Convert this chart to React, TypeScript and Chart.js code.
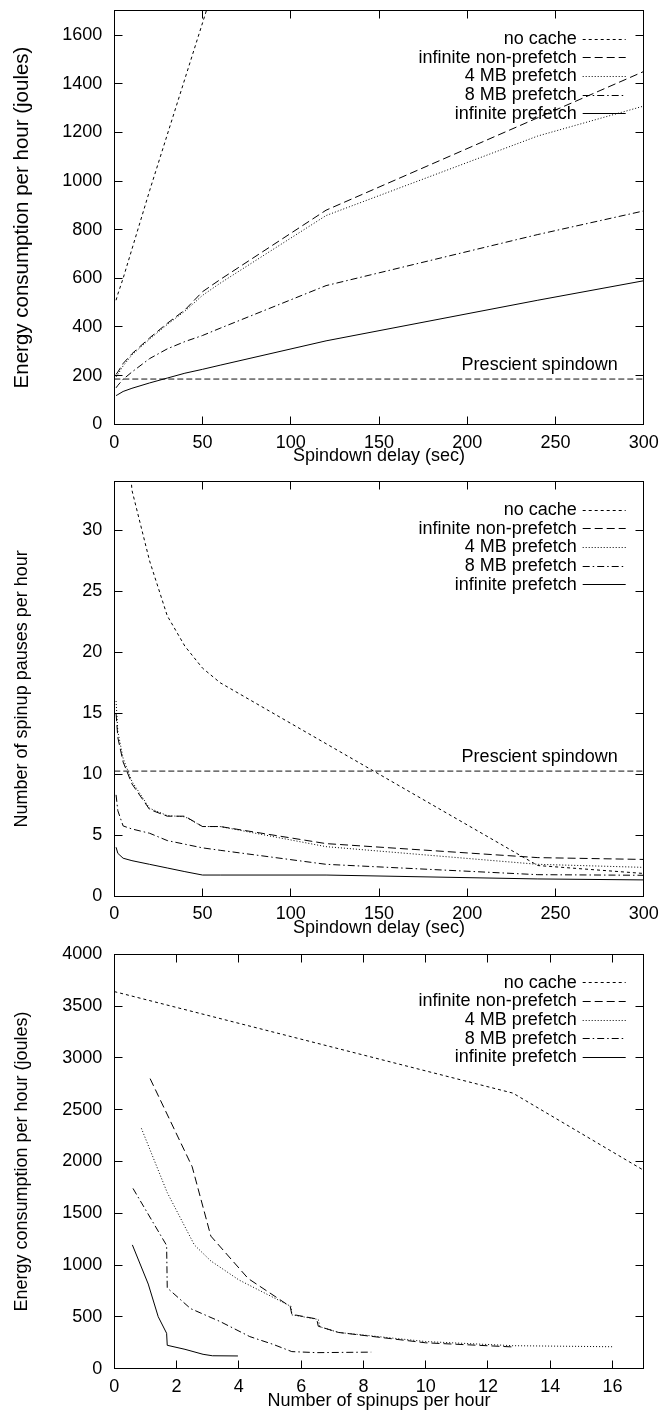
import React, { useEffect, useRef } from 'react';
import { Chart, registerables } from 'chart.js';

Chart.register(...registerables);

// ---------- shared ----------
const seriesLabels = ['no cache', 'infinite non-prefetch', '4 MB prefetch', '8 MB prefetch', 'infinite prefetch'];
const prescientLabel = 'Prescient spindown';

// ---------- charts 1 & 2 : spindown delay (sec) ----------
const spindownDelays = [1, 2, 5, 10, 20, 30, 40, 50, 60, 120, 240, 300];
const delayTicks = [0, 50, 100, 150, 200, 250, 300];

// chart 1: energy consumption per hour (joules)
const energyNoCache = [510, 535, 600, 720, 960, 1190, 1420, 1650, 1880, 2680, 3450, 3500];
const energyInfNonPrefetch = [205, 215, 250, 290, 355, 415, 470, 545, 595, 880, 1260, 1450];
const energy4MB = [195, 205, 240, 285, 350, 410, 465, 530, 580, 858, 1185, 1308];
const energy8MB = [150, 160, 185, 215, 270, 310, 340, 365, 395, 570, 780, 877];
const energyInfPrefetch = [118, 122, 135, 148, 170, 190, 210, 226, 243, 343, 510, 590];
const energyPrescient = 186;
const energyTicks = [0, 200, 400, 600, 800, 1000, 1200, 1400, 1600];

// chart 2: number of spinup pauses per hour
const pausesNoCache = [80, 60, 43, 33.3, 27.5, 23, 20.5, 18.7, 17.5, 12.5, 2.5, 1.85];
const pausesInfNonPrefetch = [15, 13, 11, 9.2, 7.1, 6.55, 6.55, 5.7, 5.7, 4.3, 3.15, 3.0];
const pauses4MB = [16, 13.5, 11.3, 9.4, 7.2, 6.6, 6.5, 5.7, 5.7, 4.05, 2.6, 2.35];
const pauses8MB = [8.3, 7.0, 5.75, 5.5, 5.15, 4.55, 4.25, 3.95, 3.75, 2.6, 1.75, 1.7];
const pausesInfPrefetch = [4.0, 3.5, 3.1, 2.9, 2.6, 2.3, 2.0, 1.72, 1.72, 1.72, 1.4, 1.32];
const pausesPrescient = 10.25;
const pauseTicks = [0, 5, 10, 15, 20, 25, 30];

// ---------- chart 3 : energy vs number of spinups per hour ----------
const spinupsNoCache = [0, 12.8, 17];
const energyBySpinupsNoCache = [3640, 2660, 1915];
const spinupsInfNonPrefetch = [1.15, 2.5, 3.1, 4.3, 5.65, 5.7, 6.5, 6.55, 7.2, 10, 12.8];
const energyBySpinupsInfNonPrefetch = [2800, 1950, 1280, 870, 600, 525, 480, 410, 350, 250, 210];
const spinups4MB = [0.87, 1.7, 2.57, 3.1, 4.0, 5.68, 5.7, 6.55, 6.6, 7.2, 10, 12.8, 16];
const energyBySpinups4MB = [2320, 1700, 1195, 1040, 857, 600, 520, 475, 405, 350, 262, 222, 212];
const spinups8MB = [0.6, 1.68, 1.7, 2.45, 3.4, 4.35, 5.1, 5.7, 6.5, 8.25];
const energyBySpinups8MB = [1740, 1190, 780, 580, 455, 310, 235, 165, 155, 160];
const spinupsInfPrefetch = [0.58, 1.09, 1.41, 1.68, 1.7, 2.27, 2.85, 3.15, 3.97];
const energyBySpinupsInfPrefetch = [1195, 817, 502, 342, 226, 187, 139, 125, 123];
const spinupTicks = [0, 2, 4, 6, 8, 10, 12, 14, 16];
const energy3Ticks = [0, 500, 1000, 1500, 2000, 2500, 3000, 3500, 4000];

// ---------- styles ----------
const FONT = '"Liberation Sans", Arial, Helvetica, sans-serif';
const FONT_SIZE = 18;
const lineColors = ['#000', '#000', '#000', '#000', '#000'];
const lineDashes: number[][] = [[3, 3], [8, 4], [1, 2], [7, 3, 1.5, 3], []];
const prescientColor = '#111';
const prescientDash = [6, 3];

Chart.defaults.font.family = FONT;
Chart.defaults.font.size = FONT_SIZE;
Chart.defaults.color = '#000';

const px = (v: number) => Math.floor(v) + 0.5;

const decorPlugin = {
  id: 'decor',
  afterDatasetsDraw(chart: any) {
    const { ctx, chartArea: a } = chart;
    const xs = chart.scales.x;
    const ys = chart.scales.y;
    const L = px(a.left), R = px(a.right), T = px(a.top), B = px(a.bottom);
    ctx.save();
    ctx.strokeStyle = '#000';
    ctx.lineWidth = 1;
    ctx.setLineDash([]);
    ctx.strokeRect(L, T, R - L, B - T);
    ctx.beginPath();
    for (const t of xs.ticks) {
      const x = px(xs.getPixelForValue(t.value));
      ctx.moveTo(x, B); ctx.lineTo(x, B - 8);
      ctx.moveTo(x, T); ctx.lineTo(x, T + 8);
    }
    for (const t of ys.ticks) {
      const y = px(ys.getPixelForValue(t.value));
      ctx.moveTo(L, y); ctx.lineTo(L + 8, y);
      ctx.moveTo(R, y); ctx.lineTo(R - 8, y);
    }
    ctx.stroke();

    ctx.font = `${FONT_SIZE}px ${FONT}`;
    ctx.fillStyle = '#000';
    ctx.textAlign = 'right';
    ctx.textBaseline = 'middle';
    let row = 0;
    chart.data.datasets.forEach((ds: any) => {
      if (ds.label === prescientLabel) {
        const y = ys.getPixelForValue(ds.data[0].y) - 14.5;
        ctx.fillText(prescientLabel, a.right - 26, y);
        return;
      }
      const y = a.top + 28.3 + row * 18.7;
      ctx.fillText(ds.label, a.right - 67, y);
      ctx.strokeStyle = ds.borderColor;
      ctx.setLineDash(ds.borderDash || []);
      ctx.beginPath();
      ctx.moveTo(a.right - 61, px(y));
      ctx.lineTo(a.right - 18, px(y));
      ctx.stroke();
      row++;
    });
    ctx.restore();
  },
};

type Cfg = {
  xs: number[][];
  ys: number[][];
  prescient?: number;
  xMax: number;
  yMax: number;
  xTicks: number[];
  yTicks: number[];
  xTitle: string;
  yTitle: string;
  yTitleSize: number;
  top: number;
  xAxisH: number;
  canvasH: number;
};

function buildConfig(c: Cfg): any {
  const datasets: any[] = c.xs.map((xarr, i) => ({
    label: seriesLabels[i],
    data: xarr.map((x, j) => ({ x, y: c.ys[i][j] })),
    borderColor: lineColors[i],
    borderWidth: 1,
    borderDash: lineDashes[i],
    pointRadius: 0,
    tension: 0,
    fill: false,
  }));
  if (c.prescient !== undefined) {
    datasets.push({
      label: prescientLabel,
      data: [{ x: 0, y: c.prescient }, { x: c.xMax, y: c.prescient }],
      borderColor: prescientColor,
      borderWidth: 1,
      borderDash: prescientDash,
      pointRadius: 0,
      fill: false,
    });
  }
  const lh = FONT_SIZE * 1.2;
  const ylh = c.yTitleSize * 1.2;
  return {
    type: 'line',
    data: { datasets },
    plugins: [decorPlugin],
    options: {
      responsive: false,
      animation: false,
      devicePixelRatio: 1,
      events: [],
      layout: { padding: { left: 0, top: c.top, right: 18.3, bottom: 0 } },
      plugins: { legend: { display: false }, tooltip: { enabled: false } },
      scales: {
        x: {
          type: 'linear',
          min: 0,
          max: c.xMax,
          grid: { display: false, drawTicks: false },
          border: { display: false },
          afterBuildTicks: (s: any) => { s.ticks = c.xTicks.map((v) => ({ value: v })); },
          afterFit: (s: any) => {
            s.height = c.xAxisH;
            s.paddingLeft = 0;
            s.paddingRight = 0;
          },
          ticks: { padding: 7.6, maxRotation: 0, minRotation: 0, autoSkip: false, callback: (v: any) => String(v) },
          title: { display: true, text: c.xTitle, padding: { top: 0, bottom: c.xAxisH - 32 - lh / 2 } },
        },
        y: {
          type: 'linear',
          min: 0,
          max: c.yMax,
          grid: { display: false, drawTicks: false },
          border: { display: false },
          afterBuildTicks: (s: any) => { s.ticks = c.yTicks.map((v) => ({ value: v })); },
          afterFit: (s: any) => {
            s.width = 114.3;
            s.paddingTop = 0;
            s.paddingBottom = 0;
          },
          ticks: { padding: 12, autoSkip: false, callback: (v: any) => String(v) },
          title: {
            display: true,
            text: c.yTitle,
            font: { size: c.yTitleSize },
            padding: { top: 22 - ylh / 2, bottom: 0 },
          },
        },
      },
    },
  };
}

function LineChart({ cfg }: { cfg: Cfg }) {
  const ref = useRef<HTMLCanvasElement>(null);
  useEffect(() => {
    const chart = new Chart(ref.current as HTMLCanvasElement, buildConfig(cfg));
    return () => chart.destroy();
  }, []);
  return (
    <canvas
      ref={ref}
      width={662}
      height={cfg.canvasH}
      style={{ display: 'block', width: 662, height: cfg.canvasH }}
    />
  );
}

const chart1: Cfg = {
  xs: [spindownDelays, spindownDelays, spindownDelays, spindownDelays, spindownDelays],
  ys: [energyNoCache, energyInfNonPrefetch, energy4MB, energy8MB, energyInfPrefetch],
  prescient: energyPrescient,
  xMax: 300,
  yMax: 1700,
  xTicks: delayTicks,
  yTicks: energyTicks,
  xTitle: 'Spindown delay (sec)',
  yTitle: 'Energy consumption per hour (joules)',
  yTitleSize: 20.5,
  top: 10.7,
  xAxisH: 48.7,
  canvasH: 473,
};

const chart2: Cfg = {
  xs: [spindownDelays, spindownDelays, spindownDelays, spindownDelays, spindownDelays],
  ys: [pausesNoCache, pausesInfNonPrefetch, pauses4MB, pauses8MB, pausesInfPrefetch],
  prescient: pausesPrescient,
  xMax: 300,
  yMax: 34,
  xTicks: delayTicks,
  yTicks: pauseTicks,
  xTitle: 'Spindown delay (sec)',
  yTitle: 'Number of spinup pauses per hour',
  yTitleSize: 18,
  top: 8.7,
  xAxisH: 49,
  canvasH: 472,
};

const chart3: Cfg = {
  xs: [spinupsNoCache, spinupsInfNonPrefetch, spinups4MB, spinups8MB, spinupsInfPrefetch],
  ys: [energyBySpinupsNoCache, energyBySpinupsInfNonPrefetch, energyBySpinups4MB, energyBySpinups8MB, energyBySpinupsInfPrefetch],
  xMax: 17,
  yMax: 4000,
  xTicks: spinupTicks,
  yTicks: energy3Ticks,
  xTitle: 'Number of spinups per hour',
  yTitle: 'Energy consumption per hour (joules)',
  yTitleSize: 18,
  top: 9.3,
  xAxisH: 49.3,
  canvasH: 473,
};

export default function App() {
  return (
    <div style={{ position: 'absolute', left: 0, top: 0, width: 662, background: '#fff' }}>
      <LineChart cfg={chart1} />
      <LineChart cfg={chart2} />
      <LineChart cfg={chart3} />
    </div>
  );
}
